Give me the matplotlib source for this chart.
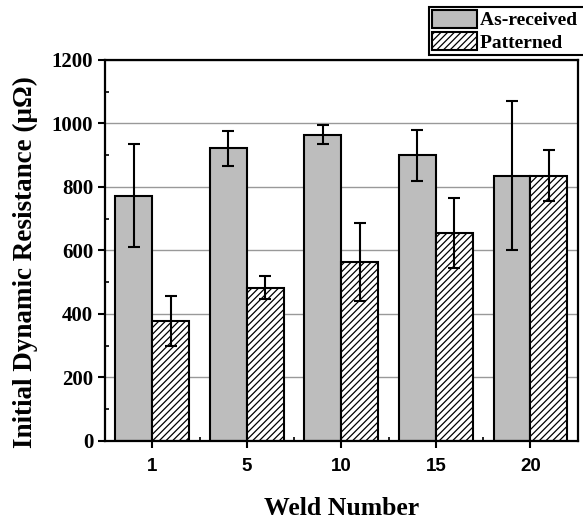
import numpy as np
import matplotlib.pyplot as plt
from matplotlib.ticker import MultipleLocator

plt.rcParams['font.family'] = ['Liberation Serif', 'DejaVu Serif']
plt.rcParams['font.weight'] = 'bold'
plt.rcParams['hatch.linewidth'] = 0.9

# Data
welds = ['1', '5', '10', '15', '20']
as_received = [773, 922, 964, 900, 836]
as_received_err = [163, 55, 30, 80, 235]
patterned = [378, 483, 563, 656, 836]
patterned_err = [80, 37, 122, 110, 80]

fig = plt.figure(figsize=(5.83, 5.21), dpi=100)
ax = fig.add_axes([0.180, 0.1536, 0.811, 0.7314])

x = np.arange(len(welds))
w = 0.39

ax.bar(x - w / 2, as_received, w, color='#bdbdbd', edgecolor='black',
       linewidth=1.5, label='As-received', zorder=2)
ax.bar(x + w / 2, patterned, w, color='white', edgecolor='black',
       linewidth=1.5, hatch='/////', label='Patterned', zorder=2)

ax.errorbar(x - w / 2, as_received, yerr=as_received_err, fmt='none',
            ecolor='black', elinewidth=1.5, capsize=4, capthick=1.5, zorder=3)
ax.errorbar(x + w / 2, patterned, yerr=patterned_err, fmt='none',
            ecolor='black', elinewidth=1.5, capsize=4, capthick=1.5, zorder=3)

ax.set_xlim(-0.5, 4.5)
ax.set_ylim(0, 1200)
ax.set_xticks(x)
ax.set_xticklabels(welds, fontfamily='Liberation Sans', fontweight='bold',
                   fontsize=13.5)
ax.yaxis.set_major_locator(MultipleLocator(200))
ax.yaxis.set_minor_locator(MultipleLocator(100))
ax.set_xticks(x[:-1] + 0.5, minor=True)
ax.grid(axis='y', which='major', color='#999999', linewidth=1.0, zorder=0)
ax.set_axisbelow(True)

for s in ax.spines.values():
    s.set_linewidth(1.6)
ax.tick_params(axis='y', which='major', labelsize=15)
ax.tick_params(axis='both', which='major', direction='out', length=5,
               width=1.5)
ax.tick_params(axis='x', which='major', pad=7)
ax.tick_params(axis='both', which='minor', direction='in', length=3, width=1.2)

ax.set_xlabel('Weld Number', fontsize=18.5, fontweight='bold', labelpad=16)
ax.set_ylabel('Initial Dynamic Resistance (μΩ)', fontsize=19.5,
              fontweight='bold')
ax.yaxis.set_label_coords(-0.142, 0.47)

leg = ax.legend(loc='upper right', bbox_to_anchor=(1.004, 0.987),
                bbox_transform=fig.transFigure, fancybox=False,
                edgecolor='black', framealpha=1, fontsize=14,
                handlelength=2.3, handleheight=1.05, handletextpad=0.2,
                borderpad=0.15, labelspacing=0.15, borderaxespad=0)
leg.get_frame().set_linewidth(1.5)
for t in leg.get_texts():
    t.set_text(t.get_text() + ' ')

fig.savefig('out.png', dpi=100)
